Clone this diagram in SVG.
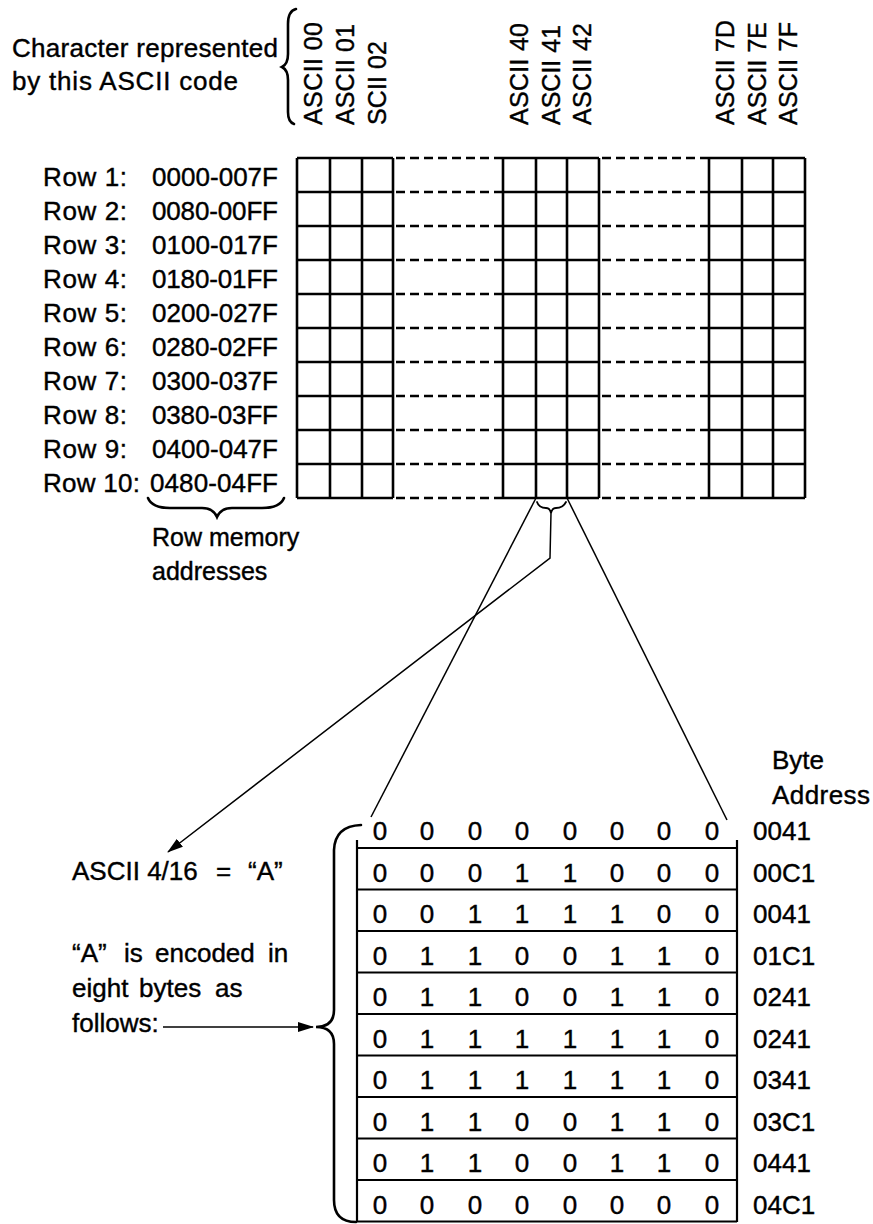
<svg xmlns="http://www.w3.org/2000/svg" width="873" height="1224" viewBox="0 0 873 1224">
<defs>
<style>
.t{font-family:"Liberation Sans",Arial,Helvetica,sans-serif;font-size:26px;fill:#000;stroke:#000;stroke-width:0.4}
.v{font-family:"Liberation Sans",Arial,Helvetica,sans-serif;font-size:25px;fill:#000;stroke:#000;stroke-width:0.4}
.m{text-anchor:middle}
.g{stroke:#000;stroke-width:2.6;fill:none}
.d{stroke:#000;stroke-width:2.6;stroke-dasharray:9 5;fill:none}
.c{stroke:#000;stroke-width:1.5;fill:none}
.b{stroke:#000;stroke-width:2.6;fill:none;stroke-linecap:round}
</style>
<marker id="ah" viewBox="0 0 16 10" refX="15" refY="5" markerWidth="16" markerHeight="10" markerUnits="userSpaceOnUse" orient="auto">
<path d="M0 0L16 5L0 10z" fill="#000"/>
</marker>
</defs>
<rect width="873" height="1224" fill="#fff"/>

<g id="header">
<text class="t" x="12" y="57" textLength="266" lengthAdjust="spacing">Character represented</text>
<text class="t" x="12" y="90" textLength="226" lengthAdjust="spacing">by this ASCII code</text>
<path class="b" d="M296 9Q288 11 288 24L288 54Q288 64 282 67Q288 70 288 80L288 112Q288 122 294 124"/>
</g>

<g id="column-labels">
<text class="v" transform="translate(322,125) rotate(-90)" textLength="103" lengthAdjust="spacing">ASCII 00</text>
<text class="v" transform="translate(354,125) rotate(-90)" textLength="101" lengthAdjust="spacing">ASCII 01</text>
<text class="v" transform="translate(385.5,125) rotate(-90)" textLength="84" lengthAdjust="spacing">SCII 02</text>
<text class="v" transform="translate(527.5,125) rotate(-90)" textLength="102" lengthAdjust="spacing">ASCII 40</text>
<text class="v" transform="translate(559.5,125) rotate(-90)" textLength="100" lengthAdjust="spacing">ASCII 41</text>
<text class="v" transform="translate(591,125) rotate(-90)" textLength="102" lengthAdjust="spacing">ASCII 42</text>
<text class="v" transform="translate(733.5,125) rotate(-90)" textLength="105" lengthAdjust="spacing">ASCII 7D</text>
<text class="v" transform="translate(765.5,125) rotate(-90)" textLength="103" lengthAdjust="spacing">ASCII 7E</text>
<text class="v" transform="translate(797,125) rotate(-90)" textLength="103" lengthAdjust="spacing">ASCII 7F</text>
</g>

<g id="row-labels">
<text class="t" x="43" y="186" textLength="84" lengthAdjust="spacing">Row 1:</text>
<text class="t" x="152" y="186" textLength="126" lengthAdjust="spacing">0000-007F</text>
<text class="t" x="43" y="220" textLength="84" lengthAdjust="spacing">Row 2:</text>
<text class="t" x="152" y="220" textLength="126" lengthAdjust="spacing">0080-00FF</text>
<text class="t" x="43" y="254" textLength="84" lengthAdjust="spacing">Row 3:</text>
<text class="t" x="152" y="254" textLength="126" lengthAdjust="spacing">0100-017F</text>
<text class="t" x="43" y="288" textLength="84" lengthAdjust="spacing">Row 4:</text>
<text class="t" x="152" y="288" textLength="126" lengthAdjust="spacing">0180-01FF</text>
<text class="t" x="43" y="322" textLength="84" lengthAdjust="spacing">Row 5:</text>
<text class="t" x="152" y="322" textLength="126" lengthAdjust="spacing">0200-027F</text>
<text class="t" x="43" y="356" textLength="84" lengthAdjust="spacing">Row 6:</text>
<text class="t" x="152" y="356" textLength="126" lengthAdjust="spacing">0280-02FF</text>
<text class="t" x="43" y="390" textLength="84" lengthAdjust="spacing">Row 7:</text>
<text class="t" x="152" y="390" textLength="126" lengthAdjust="spacing">0300-037F</text>
<text class="t" x="43" y="424" textLength="84" lengthAdjust="spacing">Row 8:</text>
<text class="t" x="152" y="424" textLength="126" lengthAdjust="spacing">0380-03FF</text>
<text class="t" x="43" y="458" textLength="84" lengthAdjust="spacing">Row 9:</text>
<text class="t" x="152" y="458" textLength="126" lengthAdjust="spacing">0400-047F</text>
<text class="t" x="43" y="492" textLength="97" lengthAdjust="spacing">Row 10:</text>
<text class="t" x="150" y="492" textLength="128" lengthAdjust="spacing">0480-04FF</text>
</g>

<g id="row-brace">
<path class="b" d="M148 498Q152 508 170 508L202 508Q213 508 217 517Q221 508 232 508L262 508Q280 508 284 498"/>
<text class="t" x="152" y="546" style="font-size:25px">Row memory</text>
<text class="t" x="152" y="580" style="font-size:25px">addresses</text>
</g>

<g id="grid">
<path class="g" d="M297 158V498M330 158V498M362 158V498M393 158V498M503 158V498M536 158V498M567 158V498M599 158V498M709 158V498M742 158V498M773 158V498M805 158V498"/>
<path class="g" d="M297 158H393M297 192H393M297 226H393M297 260H393M297 294H393M297 328H393M297 362H393M297 396H393M297 430H393M297 464H393M297 498H393"/>
<path class="g" d="M503 158H599M503 192H599M503 226H599M503 260H599M503 294H599M503 328H599M503 362H599M503 396H599M503 430H599M503 464H599M503 498H599"/>
<path class="g" d="M709 158H805M709 192H805M709 226H805M709 260H805M709 294H805M709 328H805M709 362H805M709 396H805M709 430H805M709 464H805M709 498H805"/>
<path class="d" d="M396 158H503M396 192H503M396 226H503M396 260H503M396 294H503M396 328H503M396 362H503M396 396H503M396 430H503M396 464H503M396 498H503"/>
<path class="d" d="M602 158H709M602 192H709M602 226H709M602 260H709M602 294H709M602 328H709M602 362H709M602 396H709M602 430H709M602 464H709M602 498H709"/>
</g>

<g id="connectors">
<path class="c" d="M536 498L371 817"/>
<path class="c" d="M567 498L727 820"/>
<path class="b" style="stroke-width:1.8" d="M537 502Q539 508 546 508Q550 508 551 513Q552 508 556 508Q563 508 566 502"/>
<path class="c" d="M551 513L550 558L168 852" marker-end="url(#ah)"/>
<path class="c" d="M163 1027L313 1027" marker-end="url(#ah)"/>
</g>

<g id="labels-left">
<text class="t" y="880"><tspan x="72">ASCII 4/16</tspan><tspan x="216">=</tspan><tspan x="248">“A”</tspan></text>
<text class="t" y="962"><tspan x="72">“A”</tspan><tspan x="124">is</tspan><tspan x="155">encoded</tspan><tspan x="268">in</tspan></text>
<text class="t" y="997"><tspan x="72">eight</tspan><tspan x="139">bytes</tspan><tspan x="215">as</tspan></text>
<text class="t" x="72" y="1032">follows:</text>
</g>

<g id="byte-table">
<path class="b" d="M361 825Q335 826 334 850L334 1010Q334 1027 316 1027Q334 1027 334 1044L334 1200Q334 1222 356 1222"/>
<path class="g" style="stroke-width:2.2" d="M357 840V1222M737 840V1222M357 848H737M357 889.5H737M357 931H737M357 972.5H737M357 1014H737M357 1055.5H737M357 1097H737M357 1138.5H737M357 1180H737M357 1221.5H737"/>
<text class="t" x="772" y="769">Byte</text>
<text class="t" x="772" y="804" textLength="98" lengthAdjust="spacing">Address</text>
<g class="t m">
<text y="840"><tspan x="380">0</tspan><tspan x="427">0</tspan><tspan x="475">0</tspan><tspan x="522">0</tspan><tspan x="570">0</tspan><tspan x="617">0</tspan><tspan x="664">0</tspan><tspan x="712">0</tspan></text>
<text y="881.5"><tspan x="380">0</tspan><tspan x="427">0</tspan><tspan x="475">0</tspan><tspan x="522">1</tspan><tspan x="570">1</tspan><tspan x="617">0</tspan><tspan x="664">0</tspan><tspan x="712">0</tspan></text>
<text y="923"><tspan x="380">0</tspan><tspan x="427">0</tspan><tspan x="475">1</tspan><tspan x="522">1</tspan><tspan x="570">1</tspan><tspan x="617">1</tspan><tspan x="664">0</tspan><tspan x="712">0</tspan></text>
<text y="964.5"><tspan x="380">0</tspan><tspan x="427">1</tspan><tspan x="475">1</tspan><tspan x="522">0</tspan><tspan x="570">0</tspan><tspan x="617">1</tspan><tspan x="664">1</tspan><tspan x="712">0</tspan></text>
<text y="1006"><tspan x="380">0</tspan><tspan x="427">1</tspan><tspan x="475">1</tspan><tspan x="522">0</tspan><tspan x="570">0</tspan><tspan x="617">1</tspan><tspan x="664">1</tspan><tspan x="712">0</tspan></text>
<text y="1047.5"><tspan x="380">0</tspan><tspan x="427">1</tspan><tspan x="475">1</tspan><tspan x="522">1</tspan><tspan x="570">1</tspan><tspan x="617">1</tspan><tspan x="664">1</tspan><tspan x="712">0</tspan></text>
<text y="1089"><tspan x="380">0</tspan><tspan x="427">1</tspan><tspan x="475">1</tspan><tspan x="522">1</tspan><tspan x="570">1</tspan><tspan x="617">1</tspan><tspan x="664">1</tspan><tspan x="712">0</tspan></text>
<text y="1130.5"><tspan x="380">0</tspan><tspan x="427">1</tspan><tspan x="475">1</tspan><tspan x="522">0</tspan><tspan x="570">0</tspan><tspan x="617">1</tspan><tspan x="664">1</tspan><tspan x="712">0</tspan></text>
<text y="1172"><tspan x="380">0</tspan><tspan x="427">1</tspan><tspan x="475">1</tspan><tspan x="522">0</tspan><tspan x="570">0</tspan><tspan x="617">1</tspan><tspan x="664">1</tspan><tspan x="712">0</tspan></text>
<text y="1213.5"><tspan x="380">0</tspan><tspan x="427">0</tspan><tspan x="475">0</tspan><tspan x="522">0</tspan><tspan x="570">0</tspan><tspan x="617">0</tspan><tspan x="664">0</tspan><tspan x="712">0</tspan></text>
</g>
<g class="t">
<text x="753" y="840">0041</text>
<text x="753" y="881.5">00C1</text>
<text x="753" y="923">0041</text>
<text x="753" y="964.5">01C1</text>
<text x="753" y="1006">0241</text>
<text x="753" y="1047.5">0241</text>
<text x="753" y="1089">0341</text>
<text x="753" y="1130.5">03C1</text>
<text x="753" y="1172">0441</text>
<text x="753" y="1213.5">04C1</text>
</g>
</g>
</svg>
